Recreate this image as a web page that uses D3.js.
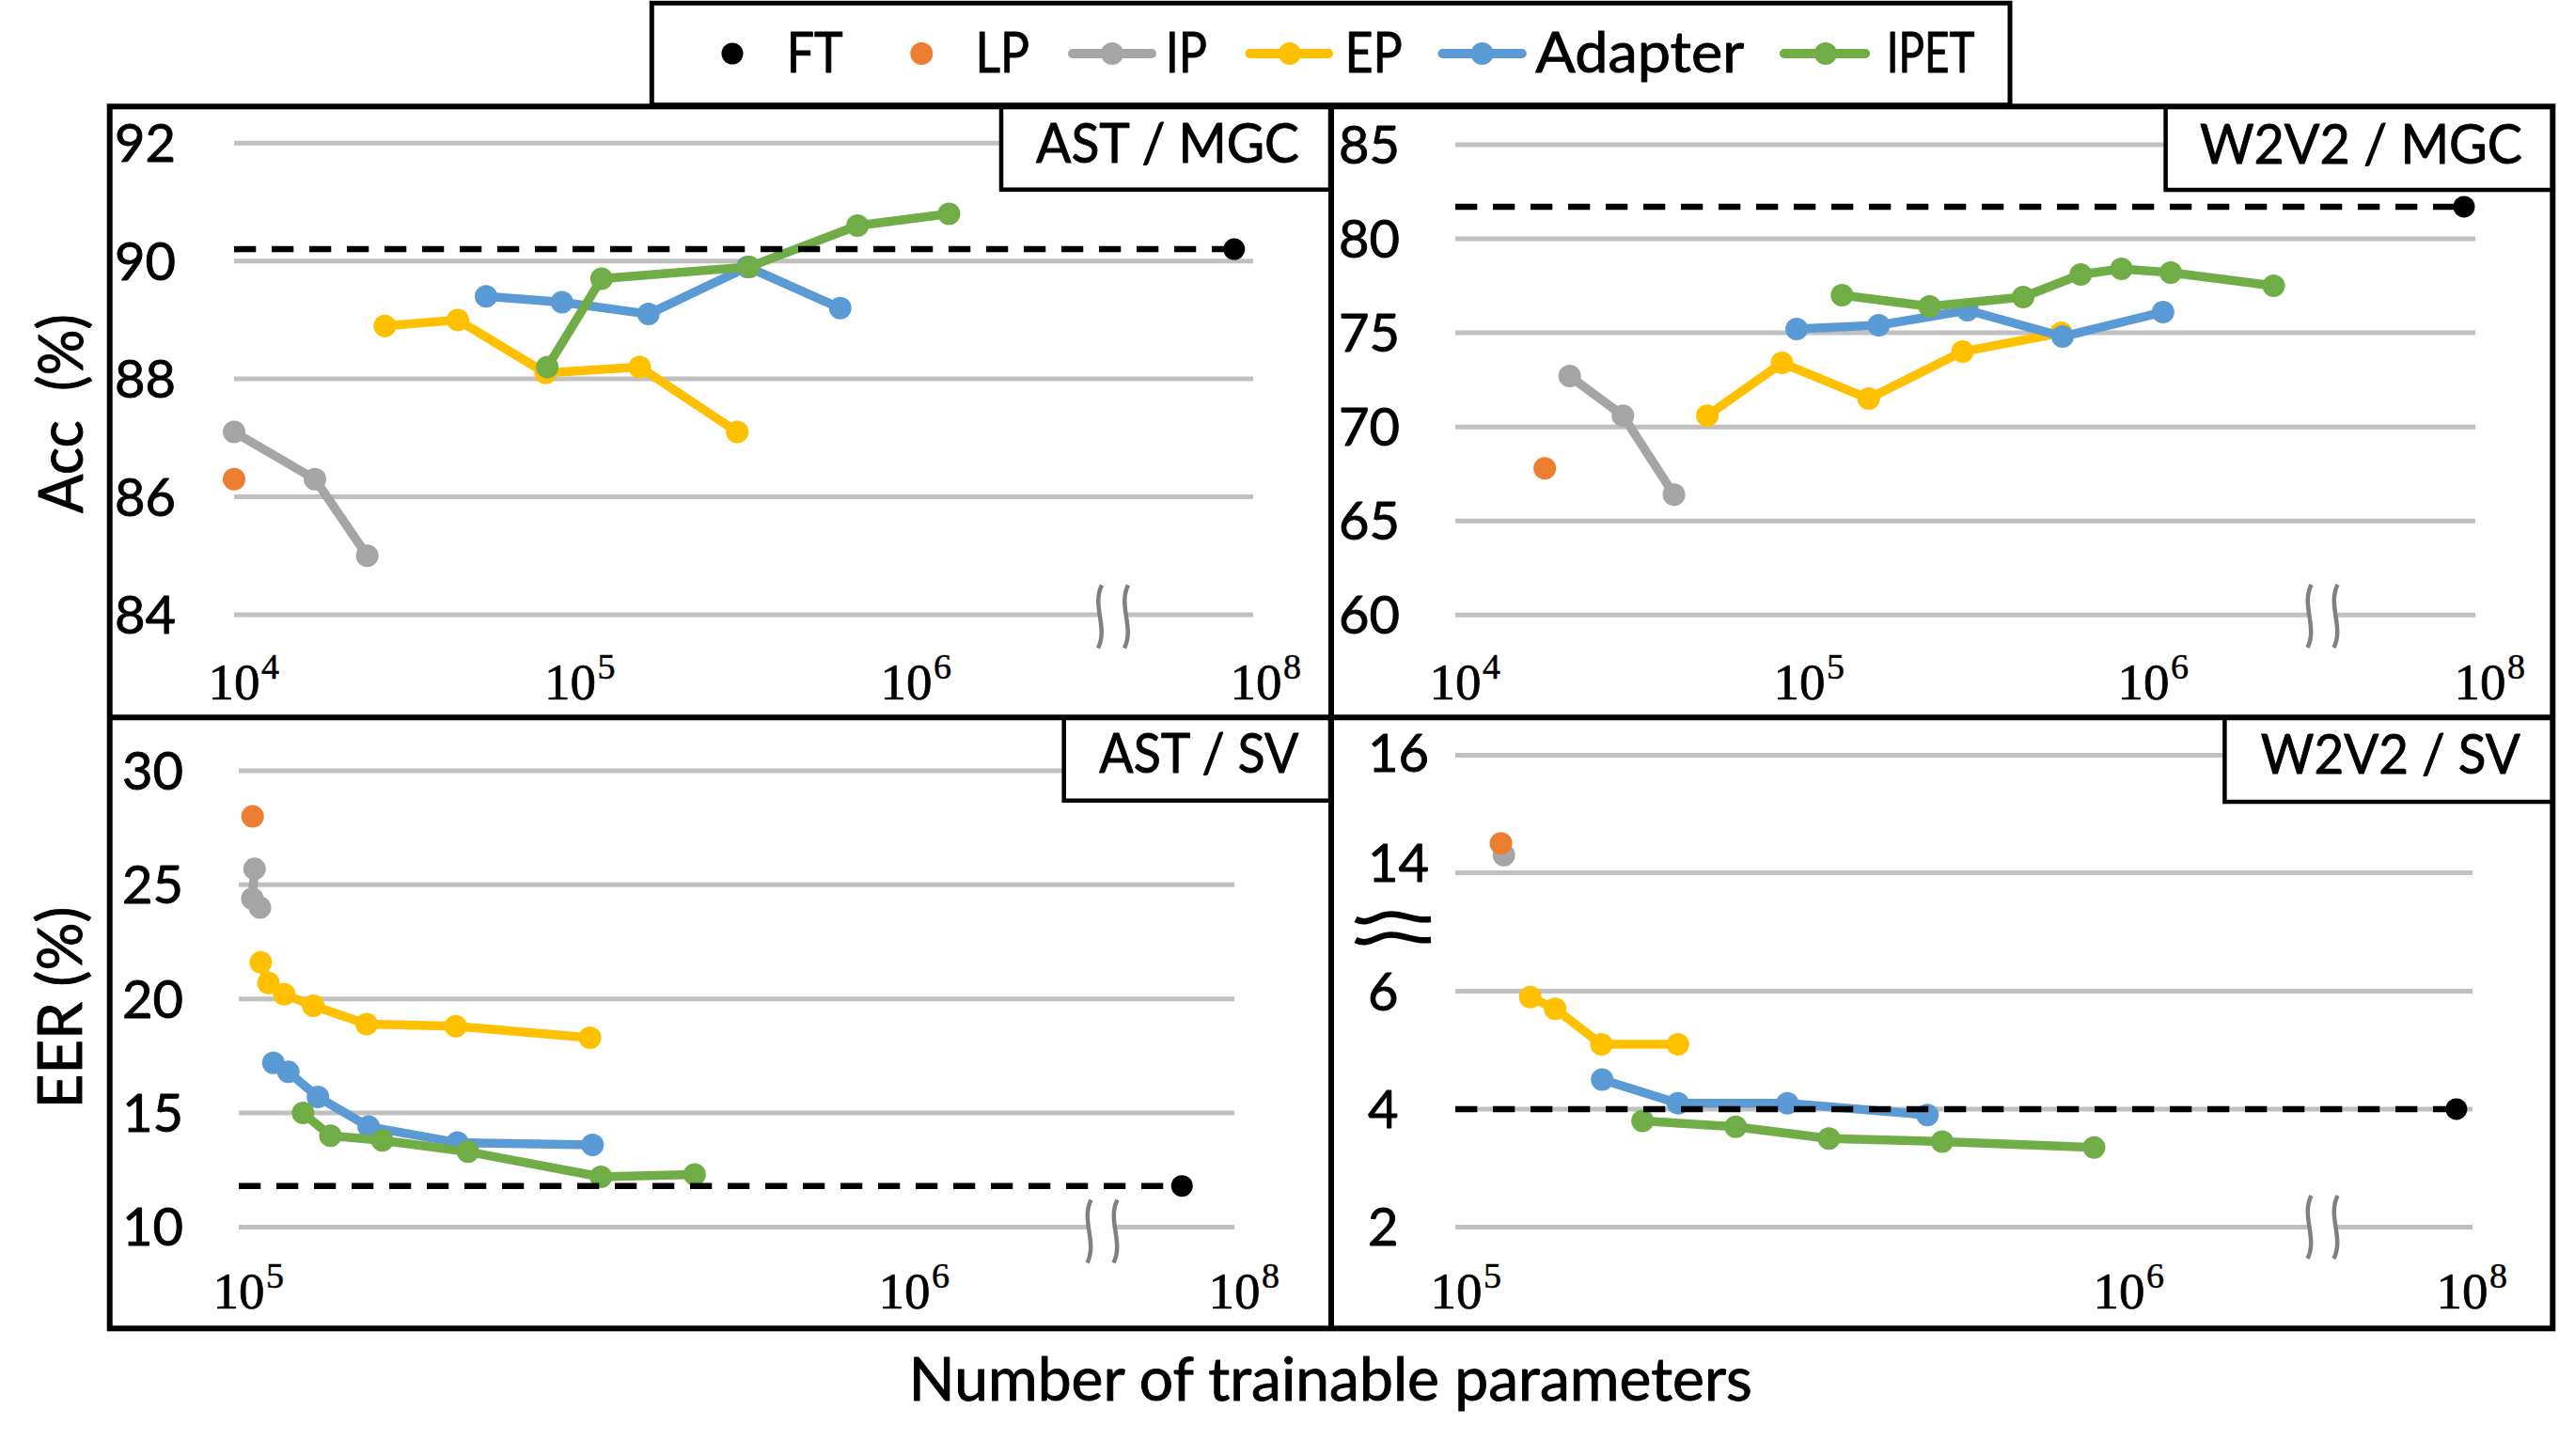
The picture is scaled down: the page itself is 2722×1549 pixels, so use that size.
<!DOCTYPE html>
<html>
<head>
<meta charset="utf-8">
<script src="https://cdn.jsdelivr.net/npm/d3@7"></script>
<style>
  html, body { margin: 0; padding: 0; background: #ffffff; }
  svg { display: block; }
</style>
</head>
<body>
<svg id="chart" width="2722" height="1549"></svg>
<script>
// ---------------- DATA ----------------
const seriesNames  = ["FT", "LP", "IP", "EP", "Adapter", "IPET"];
const seriesColors = ["#000000", "#ED7D31", "#A5A5A5", "#FFC000", "#5B9BD5", "#70AD47"];
const panelTitles  = ["AST / MGC", "W2V2 / MGC", "AST / SV", "W2V2 / SV"];
const yAxisTitles  = ["Acc\u00A0\u00A0(%)", "EER (%)"];
const xAxisTitle   = "Number of trainable parameters";

// AST / MGC  (accuracy %)
const astMgcYTicks = [84, 86, 88, 90, 92];
const astMgcXExps  = [4, 5, 6, 8];
const astMgcFT      = [[7.0e7, 90.2]];
const astMgcLP      = [[1.0e4, 86.3]];
const astMgcIP      = [[1.0e4, 87.1], [1.74e4, 86.3], [2.49e4, 85.0]];
const astMgcEP      = [[2.81e4, 88.9], [4.63e4, 89.0], [8.45e4, 88.1], [1.61e5, 88.2], [3.14e5, 87.1]];
const astMgcAdapter = [[5.62e4, 89.4], [9.45e4, 89.3], [1.71e5, 89.1], [3.37e5, 89.9], [6.36e5, 89.2]];
const astMgcIPET    = [[8.55e4, 88.2], [1.24e5, 89.7], [3.41e5, 89.9], [7.16e5, 90.6], [1.34e6, 90.8]];

// W2V2 / MGC  (accuracy %)
const w2vMgcYTicks = [60, 65, 70, 75, 80, 85];
const w2vMgcXExps  = [4, 5, 6, 8];
const w2vMgcFT      = [[7.7e7, 81.7]];
const w2vMgcLP      = [[1.82e4, 67.8]];
const w2vMgcIP      = [[2.15e4, 72.7], [3.07e4, 70.6], [4.32e4, 66.4]];
const w2vMgcEP      = [[5.40e4, 70.6], [8.90e4, 73.4], [1.59e5, 71.5], [2.98e5, 74.0], [5.77e5, 75.0]];
const w2vMgcAdapter = [[9.82e4, 75.2], [1.70e5, 75.4], [3.08e5, 76.2], [5.82e5, 74.8], [1.14e6, 76.1]];
const w2vMgcIPET    = [[1.33e5, 77.0], [2.39e5, 76.4], [4.47e5, 76.9], [6.57e5, 78.1], [8.63e5, 78.4], [1.20e6, 78.2], [2.39e6, 77.5]];

// AST / SV  (EER %)
const astSvYTicks = [10, 15, 20, 25, 30];
const astSvXExps  = [5, 6, 8];
const astSvFT      = [[4.25e7, 11.8]];
const astSvLP      = [[1.049e5, 28.0]];
const astSvIP      = [[1.056e5, 25.7], [1.048e5, 24.4], [1.076e5, 24.0]];
const astSvEP      = [[1.079e5, 21.6], [1.108e5, 20.7], [1.170e5, 20.2], [1.294e5, 19.7], [1.556e5, 18.9], [2.118e5, 18.8], [3.37e5, 18.3]];
const astSvAdapter = [[1.127e5, 17.2], [1.187e5, 16.8], [1.315e5, 15.7], [1.567e5, 14.4], [2.13e5, 13.7], [3.40e5, 13.6]];
const astSvIPET    = [[1.249e5, 15.0], [1.373e5, 14.0], [1.643e5, 13.8], [2.21e5, 13.3], [3.50e5, 12.2], [4.84e5, 12.3]];

// W2V2 / SV  (EER %, broken y axis between 6 and 14)
const w2vSvYTicks = [2, 4, 6, 14, 16];
const w2vSvXExps  = [5, 6, 8];
const w2vSvFT      = [[9.1e7, 4.0]];
const w2vSvLP      = [[1.168e5, 14.5]];
const w2vSvIP      = [[1.18e5, 14.3]];
const w2vSvEP      = [[1.293e5, 5.9], [1.41e5, 5.7], [1.656e5, 5.1], [2.16e5, 5.1]];
const w2vSvAdapter = [[1.66e5, 4.5], [2.16e5, 4.1], [3.16e5, 4.1], [5.14e5, 3.9]];
const w2vSvIPET    = [[1.91e5, 3.8], [2.64e5, 3.7], [3.65e5, 3.5], [5.41e5, 3.45], [9.17e5, 3.35]];

// ---------------- LAYOUT ----------------
const FONT  = "Lato, 'Open Sans', 'DejaVu Sans', sans-serif";
const SERIF = "'Liberation Serif', 'DejaVu Serif', serif";

const panels = [
  { title: panelTitles[0], yTicks: astMgcYTicks, xExps: astMgcXExps,
    series: { FT: astMgcFT, LP: astMgcLP, IP: astMgcIP, EP: astMgcEP, Adapter: astMgcAdapter, IPET: astMgcIPET },
    xMin: 1e4, x0: 249, decade: 357.5, x8: 1336, gx0: 249, gx1: 1333,
    yDomain: [84, 92], yRange: [654, 152.2], yLabelX: 122, xLabelY: 744,
    brk: [1184, 656], box: [1065, 113.3, 1415, 201.7], boxBase: 173.3, boxW: 280 },
  { title: panelTitles[1], yTicks: w2vMgcYTicks, xExps: w2vMgcXExps,
    series: { FT: w2vMgcFT, LP: w2vMgcLP, IP: w2vMgcIP, EP: w2vMgcEP, Adapter: w2vMgcAdapter, IPET: w2vMgcIPET },
    xMin: 1e4, x0: 1548, decade: 366, x8: 2638, gx0: 1548, gx1: 2633,
    yDomain: [60, 85], yRange: [654.3, 153.9], yLabelX: 1424, xLabelY: 744,
    brk: [2470.5, 655.5], box: [2303.6, 113.3, 2715.3, 202], boxBase: 174, boxW: 343 },
  { title: panelTitles[2], yTicks: astSvYTicks, xExps: astSvXExps,
    series: { FT: astSvFT, LP: astSvLP, IP: astSvIP, EP: astSvEP, Adapter: astSvAdapter, IPET: astSvIPET },
    xMin: 1e5, x0: 254, decade: 708, x8: 1313, gx0: 254, gx1: 1313,
    yDomain: [10, 30], yRange: [1305.4, 820], yLabelX: 130, xLabelY: 1392,
    brk: [1172.5, 1310], box: [1131.7, 763.3, 1415, 851.7], boxBase: 821.7, boxW: 212 },
  { title: panelTitles[3], yTicks: w2vSvYTicks, xExps: w2vSvXExps,
    series: { FT: w2vSvFT, LP: w2vSvLP, IP: w2vSvIP, EP: w2vSvEP, Adapter: w2vSvAdapter, IPET: w2vSvIPET },
    xMin: 1e5, x0: 1549, decade: 705, x8: 2619, gx0: 1548, gx1: 2630,
    yDomain: [2, 6, 14, 16], yRange: [1305.4, 1054.5, 928.6, 803.6], yLabelX: 1455, xLabelY: 1392,
    labelShift: { 14: -11, 16: -3 },
    brk: [2470.5, 1305.6], box: [2366.4, 763.3, 2715.3, 853], boxBase: 823, boxW: 276,
    yBreak: [1442, 977, 1522, 999] }
];

const legendItems = [
  { kind: "dot",  cx: 779,    tx: 836.7,  tw: 60 },
  { kind: "dot",  cx: 980.3,  tx: 1037.5, tw: 57.5 },
  { kind: "line", x1: 1136,   x2: 1230,   cx: 1183,   tx: 1239.7, tw: 44.3 },
  { kind: "line", x1: 1324.6, x2: 1418,   cx: 1371.8, tx: 1430.4, tw: 61.3 },
  { kind: "line", x1: 1529.5, x2: 1623.8, cx: 1576.6, tx: 1633.3, tw: 221.8 },
  { kind: "line", x1: 1892.9, x2: 1989.1, cx: 1941.9, tx: 2006.7, tw: 93.8 }
];

const MARKER_R = 12, LINE_W = 9.5, GRID = "#C0C0C0", BREAK_GRAY = "#808080";

// ---------------- DRAW ----------------
const svg = d3.select("#chart");
svg.append("rect").attr("width", 2722).attr("height", 1549).attr("fill", "#fff");

function addText(g, str, x, y, o) {
  const t = g.append("text").attr("x", x).attr("y", y).text(str)
    .attr("font-family", o.family || FONT).attr("font-size", o.size)
    .attr("text-anchor", o.anchor || "start").attr("fill", "#000")
    .attr("stroke", "#000").attr("stroke-width", o.sw === undefined ? 0.9 : o.sw)
    .attr("stroke-linejoin", "round");
  if (o.width) t.attr("textLength", o.width).attr("lengthAdjust", "spacingAndGlyphs");
  if (o.transform) t.attr("transform", o.transform);
  return t;
}

const colorOf = name => seriesColors[seriesNames.indexOf(name)];

panels.forEach(p => {
  const g = svg.append("g");
  const mainX = d3.scaleLog().domain([p.xMin, 1e7])
    .range([p.x0, p.x0 + p.decade * Math.log10(1e7 / p.xMin)]);
  const tailX = d3.scaleLog().domain([1e7, 1e8]).range([p.x8 - 150, p.x8]);
  const X = v => (v >= 1e7 ? tailX(v) : mainX(v));
  const Y = d3.scaleLinear().domain(p.yDomain).range(p.yRange);

  // gridlines
  g.selectAll("line.grid").data(p.yTicks).join("line")
    .attr("x1", p.gx0).attr("x2", p.gx1)
    .attr("y1", d => Y(d)).attr("y2", d => Y(d))
    .attr("stroke", GRID).attr("stroke-width", 5);

  // x-axis break marks
  const [bx, by] = p.brk, half = 14, h = 67;
  g.append("rect").attr("x", bx - half).attr("y", by - 7).attr("width", 2 * half).attr("height", 14).attr("fill", "#fff");
  [bx - half, bx + half].forEach(x => {
    g.append("path")
      .attr("d", `M${x + 2},${by - h / 2} C${x - 9},${by - h / 6} ${x + 9},${by + h / 6} ${x - 2},${by + h / 2}`)
      .attr("fill", "none").attr("stroke", BREAK_GRAY).attr("stroke-width", 4.5);
  });

  // series
  const line = d3.line().x(d => X(d[0])).y(d => Y(d[1]));
  ["IP", "LP", "EP", "Adapter", "IPET"].forEach(name => {
    const data = p.series[name];
    const c = colorOf(name);
    if (data.length > 1) {
      g.append("path").datum(data).attr("d", line)
        .attr("fill", "none").attr("stroke", c).attr("stroke-width", LINE_W)
        .attr("stroke-linejoin", "round").attr("stroke-linecap", "round");
    }
    g.selectAll(null).data(data).join("circle")
      .attr("cx", d => X(d[0])).attr("cy", d => Y(d[1])).attr("r", MARKER_R).attr("fill", c);
  });

  // FT reference (dashed) and point
  const ft = p.series.FT[0];
  g.append("line").attr("x1", p.gx0).attr("x2", X(ft[0]))
    .attr("y1", Y(ft[1])).attr("y2", Y(ft[1]))
    .attr("stroke", "#000").attr("stroke-width", 6.5).attr("stroke-dasharray", "23.3,16.7");
  g.append("circle").attr("cx", X(ft[0])).attr("cy", Y(ft[1])).attr("r", MARKER_R - 0.5).attr("fill", colorOf("FT"));

  // y tick labels
  p.yTicks.forEach(t => {
    const shift = (p.labelShift && p.labelShift[t]) || 0;
    addText(g, String(t), p.yLabelX, Y(t) + 20 + shift, { size: 56 });
  });

  // y axis break symbol (W2V2 / SV)
  if (p.yBreak) {
    const [x1, y1, x2, y2] = p.yBreak;
    [y1, y2].forEach(yy => {
      const w = x2 - x1;
      g.append("path")
        .attr("d", `M${x1},${yy + 1} C${x1 + w * 0.2},${yy + 9} ${x1 + w * 0.3},${yy - 8} ${x1 + w * 0.55},${yy - 4} S${x1 + w * 0.8},${yy + 2} ${x2},${yy + 1}`)
        .attr("fill", "none").attr("stroke", "#000").attr("stroke-width", 6.5);
    });
  }

  // x tick labels 10^k
  p.xExps.forEach(e => {
    const xv = X(Math.pow(10, e));
    const t = addText(g, "10", xv, p.xLabelY, { size: 55, family: SERIF, anchor: "middle", sw: 0.7 });
    const w = t.node().getComputedTextLength();
    addText(g, String(e), xv + w / 2 + 1.5, p.xLabelY - 22, { size: 38, family: SERIF, sw: 0.5 });
  });

  // panel title box
  const [bx0, by0, bx1, by1] = p.box;
  g.append("rect").attr("x", bx0).attr("y", by0).attr("width", bx1 - bx0).attr("height", by1 - by0)
    .attr("fill", "#fff").attr("stroke", "#000").attr("stroke-width", 4.5);
  addText(g, p.title, (bx0 + bx1) / 2 + 2, p.boxBase, { size: 58, anchor: "middle", width: p.boxW });
});

// frame
const frame = svg.append("g").attr("fill", "none").attr("stroke", "#000").attr("stroke-width", 6);
frame.append("rect").attr("x", 116.7).attr("y", 113.3).attr("width", 2715.3 - 116.7).attr("height", 1413.3 - 113.3);
frame.append("line").attr("x1", 1416).attr("x2", 1416).attr("y1", 113.3).attr("y2", 1413.3);
frame.append("line").attr("x1", 116.7).attr("x2", 2715.3).attr("y1", 763.3).attr("y2", 763.3);

// legend
const lg = svg.append("g");
lg.append("rect").attr("x", 693.3).attr("y", 3.3).attr("width", 2138 - 693.3).attr("height", 111.7 - 3.3)
  .attr("fill", "#fff").attr("stroke", "#000").attr("stroke-width", 5);
legendItems.forEach((it, i) => {
  const c = seriesColors[i];
  if (it.kind === "line") {
    lg.append("line").attr("x1", it.x1 + 5).attr("x2", it.x2 - 5).attr("y1", 57).attr("y2", 57)
      .attr("stroke", c).attr("stroke-width", 10).attr("stroke-linecap", "round");
  }
  lg.append("circle").attr("cx", it.cx).attr("cy", 57).attr("r", i === 0 ? 11.5 : 12).attr("fill", c);
  addText(lg, seriesNames[i], it.tx, 76.7, { size: 60, width: it.tw });
});

// axis titles
addText(svg, xAxisTitle, 1415.3, 1489.8, { size: 64, anchor: "middle", width: 897 });
addText(svg, yAxisTitles[0], 0, 0, { size: 65, anchor: "middle", width: 212, transform: "translate(88,440) rotate(-90)" });
addText(svg, yAxisTitles[1], 0, 0, { size: 65, anchor: "middle", width: 215, transform: "translate(87,1072) rotate(-90)" });
</script>
</body>
</html>
